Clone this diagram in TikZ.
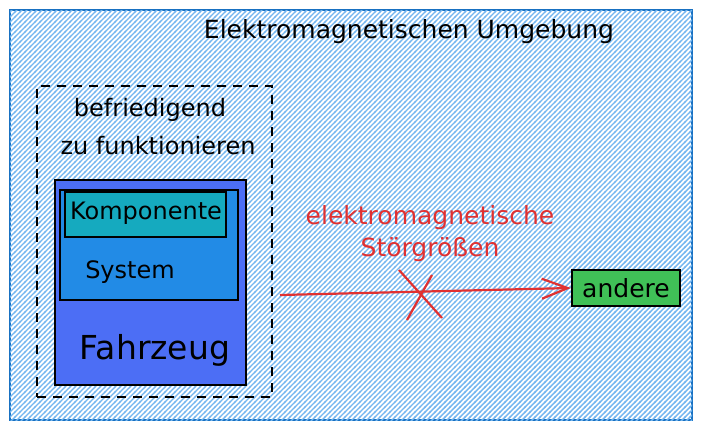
\documentclass[tikz,border=0pt]{standalone}
\usepackage{fontspec}
\setmainfont{DejaVu Sans}
\usepackage{tikz}
\usetikzlibrary{positioning,arrows.meta,patterns.meta}
\usepackage{xcolor}

\definecolor{umgebungline}{HTML}{1971C2}
\definecolor{hatchblue}{HTML}{74B6F0}
\definecolor{fahrzeugblue}{HTML}{4C6EF5}
\definecolor{systemblue}{HTML}{228BE6}
\definecolor{komponentecyan}{HTML}{15AABF}
\definecolor{anderegreen}{HTML}{40C057}
\definecolor{stoerred}{HTML}{E03131}

\tikzdeclarepattern{
  name=sketchhatch,
  type=uncolored,
  bounding box={(-1pt,-1pt) and (6pt,6pt)},
  tile size={(5pt,5pt)},
  code={\draw[line width=1.4pt] (-1pt,-1pt) -- (6pt,6pt);}
}

\begin{document}
\begin{tikzpicture}[
    x=1pt, y=-1pt,
    >=Stealth,
    box/.style={draw=black, line width=2.2pt, inner sep=0pt},
    label/.style={font=\fontsize{24}{28}\selectfont, inner sep=0pt},
    stoer/.style={draw=stoerred, line width=2.2pt}
]
\useasboundingbox (0,0) rectangle (701,432);

% environment
\node[draw=umgebungline, line width=1.4pt, fill=white,
      postaction={pattern={sketchhatch}, pattern color=hatchblue},
      minimum width=682, minimum height=410, inner sep=0pt]
      (umgebung) at (351,215) {};
\node[label, font=\fontsize{25}{28}\selectfont] (umgebungtext) at (409,32) {Elektromagnetischen Umgebung};

% test boundary
\node[draw=black, line width=2pt, dash pattern=on 9pt off 7pt,
      minimum width=235, minimum height=311, inner sep=0pt]
      (grenze) at (154.5,241.5) {};
\node[label] (befriedigend) at (150,110) {befriedigend};
\node[label] (funktionieren) at (158,146) {zu funktionieren};

% nested objects
\node[box, fill=fahrzeugblue, minimum width=191, minimum height=205]
      (fahrzeug) at (150.5,282.5) {};
\node[box, fill=systemblue, minimum width=178, minimum height=110]
      (system) at (149,245) {};
\node[box, fill=komponentecyan, minimum width=161, minimum height=45]
      (komponente) at (145.5,214.5) {};
\node[label] (komponentetext) at (146,213) {Komponente};
\node[label] (systemtext) at (130,272) {System};
\node[label, font=\fontsize{33}{36}\selectfont] (fahrzeugtext) at (155,350) {Fahrzeug};

% other equipment
\node[box, fill=anderegreen, minimum width=108, minimum height=36]
      (andere) at (626,288) {};
\node[label, font=\fontsize{25}{28}\selectfont] (anderetext) at (andere) {andere};

% disturbance
\coordinate (quelle) at (280,295);
\draw[stoer, -{Straight Barb[length=26pt,width=20pt]}] (quelle) -- (andere.west);
\coordinate (kreuz) at (421,293);
\draw[stoer] ([shift={(-22,-23)}]kreuz) -- ([shift={(21,25)}]kreuz);
\draw[stoer] ([shift={(-14,27)}]kreuz) -- ([shift={(11,-18)}]kreuz);
\node[label, text=stoerred, align=center, font=\fontsize{25}{32}\selectfont]
      (stoertext) at (430,234) {elektromagnetische\\Störgrößen};

\end{tikzpicture}
\end{document}
